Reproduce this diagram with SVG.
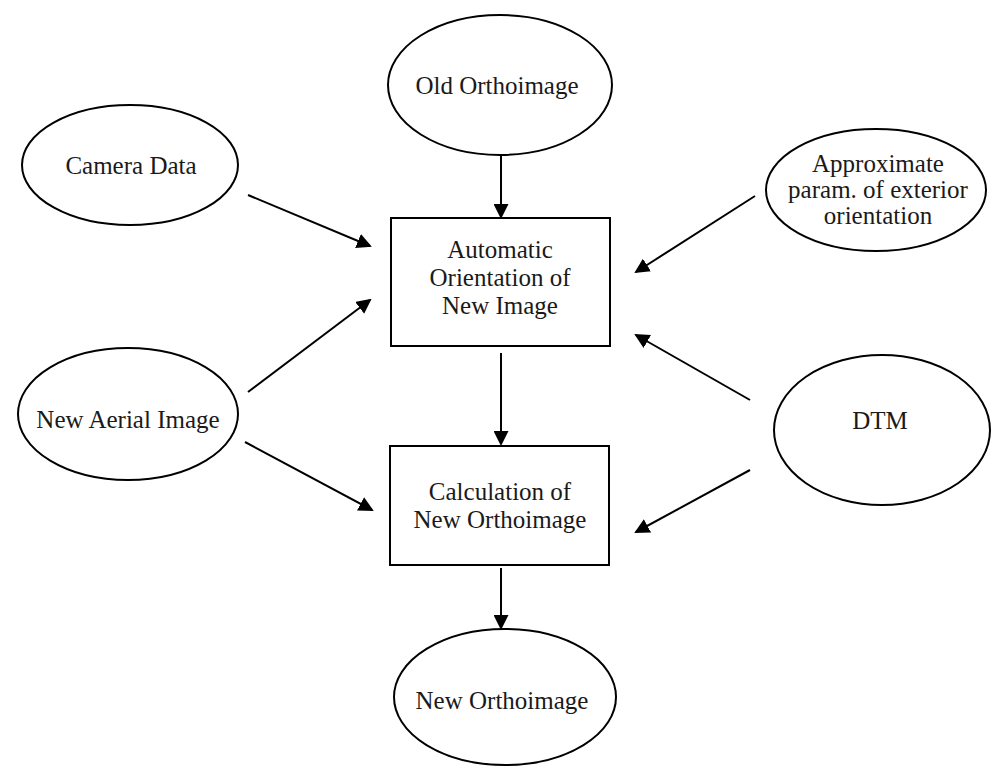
<svg xmlns="http://www.w3.org/2000/svg" width="992" height="767" viewBox="0 0 992 767">
<style>
.n{fill:#fff;stroke:#000;stroke-width:2}
.t{font-family:"Liberation Serif","Times New Roman",serif;font-size:25px;fill:#1a1a1a;text-anchor:middle}
.c line{stroke:#000;stroke-width:2;marker-end:url(#ah)}
</style>
<defs>
<marker id="ah" viewBox="0 0 15 15" markerWidth="15" markerHeight="15" refX="13" refY="7.5" orient="auto" markerUnits="userSpaceOnUse">
<path d="M0,0 L15,7.5 L0,15 z" fill="#000"/>
</marker>
</defs>
<rect width="992" height="767" fill="#fff"/>
<g id="old-orthoimage"><ellipse class="n" cx="500" cy="85" rx="112" ry="70"/><text class="t" x="497" y="94">Old Orthoimage</text></g>
<g id="camera-data"><ellipse class="n" cx="130" cy="165" rx="108" ry="60"/><text class="t" x="131" y="174">Camera Data</text></g>
<g id="approx-params"><ellipse class="n" cx="876" cy="190" rx="110" ry="61"/><text class="t" x="878" y="172">Approximate</text><text class="t" x="878" y="198">param. of exterior</text><text class="t" x="878" y="224">orientation</text></g>
<g id="auto-orientation"><rect class="n" x="391" y="218" width="219" height="128"/><text class="t" x="500" y="258">Automatic</text><text class="t" x="500" y="286">Orientation of</text><text class="t" x="500" y="314">New Image</text></g>
<g id="new-aerial-image"><ellipse class="n" cx="128" cy="414" rx="110" ry="66"/><text class="t" x="128" y="428">New Aerial Image</text></g>
<g id="dtm"><ellipse class="n" cx="882" cy="430" rx="108" ry="75"/><text class="t" x="880" y="429">DTM</text></g>
<g id="calc-orthoimage"><rect class="n" x="390" y="446" width="219" height="119"/><text class="t" x="500" y="500">Calculation of</text><text class="t" x="500" y="528">New Orthoimage</text></g>
<g id="new-orthoimage"><ellipse class="n" cx="505" cy="697" rx="111" ry="68"/><text class="t" x="502" y="709">New Orthoimage</text></g>
<g class="c" id="connectors">
<line x1="501" y1="155" x2="501" y2="217"/>
<line x1="501" y1="353" x2="501" y2="444"/>
<line x1="501" y1="568" x2="501" y2="628"/>
<line x1="248" y1="195" x2="370" y2="246"/>
<line x1="248" y1="392" x2="370" y2="300"/>
<line x1="245" y1="442" x2="372" y2="510"/>
<line x1="755" y1="196" x2="636" y2="272"/>
<line x1="750" y1="400" x2="636" y2="335"/>
<line x1="750" y1="470" x2="636" y2="532"/>
</g>
</svg>
